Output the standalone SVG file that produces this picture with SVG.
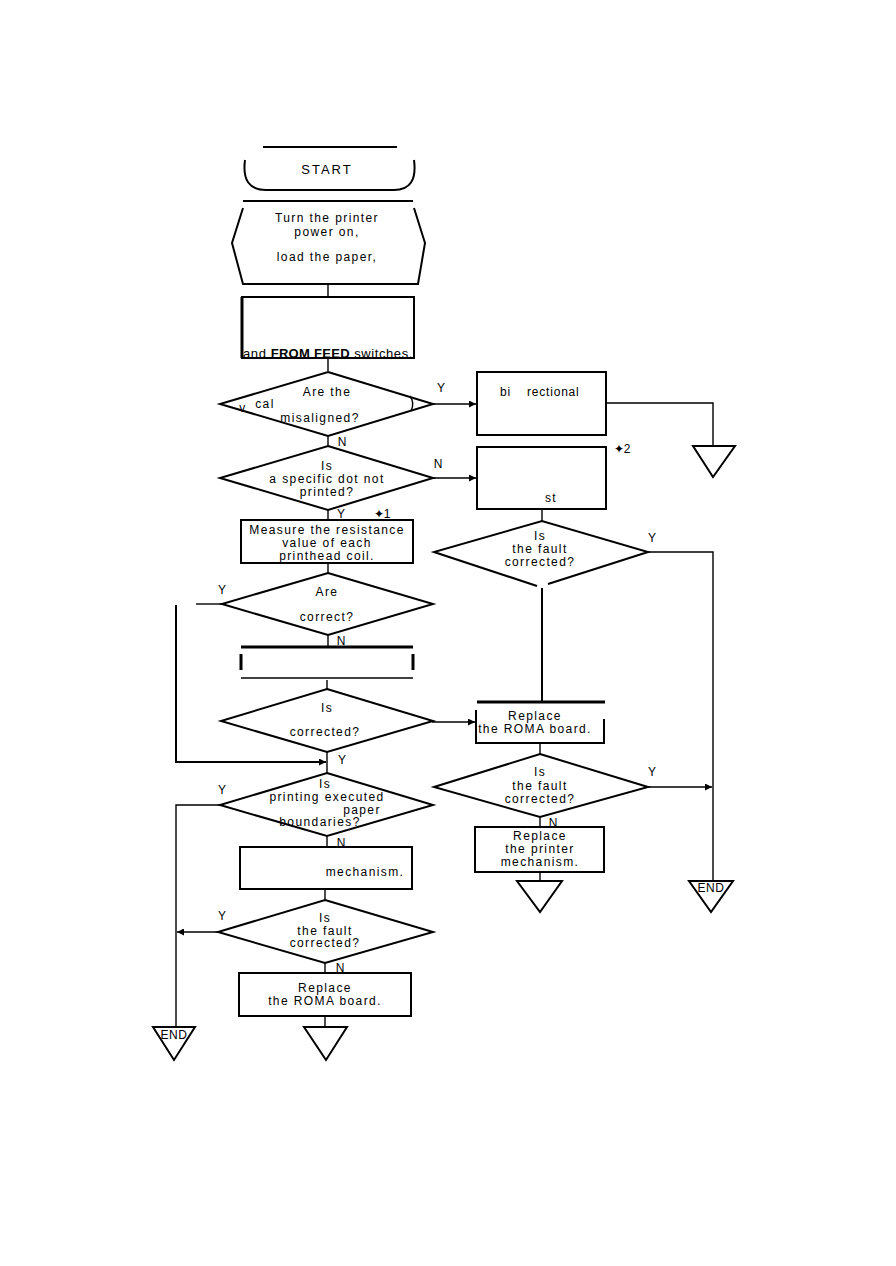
<svg xmlns="http://www.w3.org/2000/svg" width="896" height="1266" viewBox="0 0 896 1266">
<defs>
<marker id="ah" viewBox="0 0 10 10" refX="10" refY="5" markerWidth="10" markerHeight="7" markerUnits="userSpaceOnUse" orient="auto"><path d="M0,0 L10,5 L0,10 z" fill="#000"/></marker>
<style>
.s{fill:none;stroke:#000;stroke-width:2}
.t{fill:none;stroke:#000;stroke-width:1.4}
.w{fill:#fff;stroke:#000;stroke-width:2}
text{font-family:"Liberation Sans",Arial,sans-serif;font-size:12px;letter-spacing:1.4px;fill:#000;text-anchor:middle}
.lb{font-size:12px;letter-spacing:0}
.b{font-weight:bold;letter-spacing:0.3px}
</style>
</defs>
<rect width="896" height="1266" fill="#fff"/>
<g id="connectors">
<path class="t" d="M328 285 V296"/>
<path class="t" d="M328 358 V371"/>
<path class="t" d="M328 436 V446"/>
<path class="t" d="M328 510 V520"/>
<path class="t" d="M328 563 V573"/>
<path class="t" d="M328 635 V647"/>
<path class="t" d="M327 680 V689"/>
<path class="t" d="M327 752 V773"/>
<path class="t" d="M327 836 V847"/>
<path class="t" d="M325 889 V900"/>
<path class="t" d="M325 963 V973"/>
<path class="t" d="M325 1016 V1027"/>
<path class="t" d="M433 404 H476" marker-end="url(#ah)"/>
<path class="t" d="M433 478 H476" marker-end="url(#ah)"/>
<path class="t" d="M606 403 H713 V446"/>
<path class="t" d="M542 509 V521"/>
<path class="s" d="M542 588 V702"/>
<path class="t" d="M648 552 H713 V881"/>
<path class="t" d="M432 722 H475" marker-end="url(#ah)"/>
<path class="t" d="M540 743 V754"/>
<path class="t" d="M648 787 H712" marker-end="url(#ah)"/>
<path class="t" d="M540 817 V827"/>
<path class="t" d="M540 872 V881"/>
<path class="t" d="M196 604 H222"/>
<path class="s" d="M176 605 V762 H326" marker-end="url(#ah)"/>
<path class="t" d="M220 805 H176 V1028"/>
<path class="t" d="M218 932 H177" marker-end="url(#ah)"/>
</g>
<g id="start">
<path class="s" d="M263 147 H397"/>
<path class="s" d="M245 160 Q241 190 266 190 H394 Q418 190 414 160"/>
<text x="327" y="174" style="font-size:13px;letter-spacing:2px">START</text>
</g>
<g id="prep">
<path class="s" d="M243 201 H413"/>
<path class="s" d="M243 208 L232 243 L243 284 H418 L425 243 L414 208"/>
<text x="327" y="222">Turn the printer</text>
<text x="327" y="236">power on,</text>
<text x="327" y="261">load the paper,</text>
</g>
<g id="box-switches">
<rect class="s" x="242" y="297" width="172" height="61"/>
<path class="s" d="M242 297 V358" style="stroke-width:3"/>
<text x="328" y="358" style="font-size:13px;letter-spacing:0.6px">and <tspan class="b">FROM  FEED</tspan> switches.</text>
</g>
<g id="d-misaligned">
<path class="s" d="M328 372 L433 404 L328 436 L220 404 Z"/>
<path class="t" d="M410 396 Q415 403 411 411"/>
<text x="243" y="412">v</text>
<text x="265" y="408">cal</text>
<text x="320" y="422">misaligned?</text>
<text x="327" y="396">Are the</text>
<text class="lb" x="441" y="392">Y</text>
<text class="lb" x="342" y="446">N</text>
</g>
<g id="box-bidir">
<rect class="s" x="477" y="372" width="129" height="63"/>
<text x="500" y="396" style="text-anchor:start;letter-spacing:0.8px">bi</text>
<text x="527" y="396" style="text-anchor:start;letter-spacing:0.8px">rectional</text>
</g>
<g id="end-top">
<path class="t" d="M693 446 H735 L713 477 Z" style="stroke-width:2"/>
</g>
<g id="d-dot">
<path class="s" d="M328 446 L433 478 L328 510 L220 478 Z"/>
<text x="327" y="470">Is</text>
<text x="327" y="483">a specific dot not</text>
<text x="327" y="496">printed?</text>
<text class="lb" x="438" y="468">N</text>
<text class="lb" x="341" y="518">Y</text>
<text class="lb" x="382" y="518">✦1</text>
</g>
<g id="box-st">
<rect class="s" x="477" y="447" width="129" height="62"/>
<text x="551" y="502">st</text>
<text class="lb" x="622" y="453">✦2</text>
</g>
<g id="d-right1">
<path class="s" d="M537 586 L434 552 L542 521 L648 552 L548 584"/>
<text x="540" y="540">Is</text>
<text x="540" y="553">the fault</text>
<text x="540" y="566">corrected?</text>
<text class="lb" x="652" y="542">Y</text>
</g>
<g id="box-measure">
<rect class="s" x="241" y="520" width="172" height="43"/>
<text x="327" y="534">Measure the resistance</text>
<text x="327" y="547">value of each</text>
<text x="327" y="560">printhead coil.</text>
</g>
<g id="d-correct">
<path class="s" d="M328 573 L433 604 L328 635 L222 604 Z"/>
<text x="327" y="596">Are</text>
<text x="327" y="621">correct?</text>
<text class="lb" x="222" y="594">Y</text>
<text class="lb" x="341" y="645">N</text>
</g>
<g id="box-blank">
<path class="s" d="M241 647 H413" style="stroke-width:3"/>
<path class="s" d="M241 654 V670 M413 654 V670" style="stroke-width:3"/>
<path class="t" d="M241 678 H413"/>
</g>
<g id="d-corrected">
<path class="s" d="M327 689 L433 721 L327 752 L221 721 Z"/>
<text x="327" y="712">Is</text>
<text x="325" y="736">corrected?</text>
<text class="lb" x="342" y="764">Y</text>
</g>
<g id="box-roma-right">
<path class="s" d="M477 702 H605" style="stroke-width:3"/>
<path class="s" d="M476 710 V743 H604 V719"/>
<text x="535" y="720">Replace</text>
<text x="535" y="733">the ROMA board.</text>
</g>
<g id="d-right2">
<path class="s" d="M540 754 L648 787 L540 817 L434 787 Z"/>
<text x="540" y="776">Is</text>
<text x="540" y="790">the fault</text>
<text x="540" y="803">corrected?</text>
<text class="lb" x="652" y="776">Y</text>
<text class="lb" x="553" y="827">N</text>
</g>
<g id="box-printer-mech">
<rect class="s" x="475" y="827" width="129" height="45"/>
<text x="540" y="840">Replace</text>
<text x="540" y="853">the printer</text>
<text x="540" y="866">mechanism.</text>
</g>
<g id="tri-mid">
<path class="s" d="M517 881 H562 L540 912 Z"/>
</g>
<g id="end-right">
<path class="s" d="M689 881 H733 L711 912 Z"/>
<text x="711" y="892" style="letter-spacing:0.5px">END</text>
</g>
<g id="d-printing">
<path class="s" d="M327 773 L433 805 L327 836 L220 805 Z"/>
<text x="325" y="788">Is</text>
<text x="327" y="801">printing executed</text>
<text x="362" y="814">paper</text>
<text x="320" y="826">boundaries?</text>
<text class="lb" x="222" y="794">Y</text>
<text class="lb" x="341" y="847">N</text>
</g>
<g id="box-mech">
<rect class="s" x="240" y="847" width="172" height="42"/>
<text x="365" y="876">mechanism.</text>
</g>
<g id="d-fault-left">
<path class="s" d="M325 900 L433 932 L325 963 L218 932 Z"/>
<text x="325" y="922">Is</text>
<text x="325" y="935">the fault</text>
<text x="325" y="947">corrected?</text>
<text class="lb" x="222" y="920">Y</text>
<text class="lb" x="340" y="972">N</text>
</g>
<g id="box-roma-left">
<rect class="s" x="239" y="973" width="172" height="43"/>
<text x="325" y="992">Replace</text>
<text x="325" y="1005">the ROMA board.</text>
</g>
<g id="tri-bottom">
<path class="s" d="M304 1027 H347 L326 1060 Z"/>
</g>
<g id="end-left">
<path class="s" d="M153 1027 H195 L174 1060 Z"/>
<text x="174" y="1039" style="letter-spacing:0.5px">END</text>
</g>
</svg>
